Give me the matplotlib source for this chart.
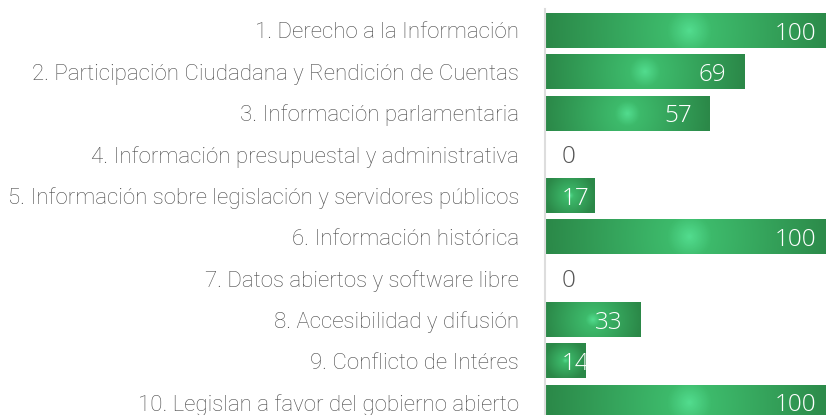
import numpy as np
import matplotlib
matplotlib.use("Agg")
import matplotlib.pyplot as plt
from matplotlib import font_manager
from matplotlib.colors import LinearSegmentedColormap
from matplotlib.patches import Rectangle
from matplotlib.transforms import offset_copy

categories = [
    "1. Derecho a la Información",
    "2. Participación Ciudadana y Rendición de Cuentas",
    "3. Información parlamentaria",
    "4. Información presupuestal y administrativa",
    "5. Información sobre legislación y servidores públicos",
    "6. Información histórica",
    "7. Datos abiertos y software libre",
    "8. Accesibilidad y difusión",
    "9. Conflicto de Intéres",
    "10. Legislan a favor del gobierno abierto",
]
values = [100, 69, 57, 0, 17, 100, 0, 33, 14, 100]

avail = {f.name for f in font_manager.fontManager.ttflist}
label_font = "Roboto" if "Roboto" in avail else "DejaVu Sans"
value_font = "Open Sans" if "Open Sans" in avail else "Roboto"

W, H, DPI = 826, 415, 100
fig = plt.figure(figsize=(W / DPI, H / DPI), dpi=DPI)

ax_left_px = 545
ax_top_px = 9
pitch = 41.3
first_center = 30.5
px_per_unit = 2.89
bar_h_px = 35

ax = fig.add_axes([ax_left_px / W, 0, 1 - ax_left_px / W, (H - ax_top_px) / H])
ax.set_xlim(0, (W - ax_left_px) / px_per_unit)

cmap = LinearSegmentedColormap.from_list(
    "g", [(0.0, "#52dc8e"), (0.15, "#3dba6b"), (1.0, "#2b8848")])

bh = bar_h_px / pitch
for i, v in enumerate(values):
    if v <= 0:
        continue
    wpx = max(int(round(v * px_per_unit)), 2)
    xs = np.arange(wpx) + 0.5 - wpx / 2
    ys = np.arange(bar_h_px) + 0.5 - bar_h_px / 2
    X, Y = np.meshgrid(xs, ys)
    R = max(wpx / 2, bar_h_px / 2)
    t = np.clip(np.sqrt(X ** 2 + Y ** 2) / R, 0, 1)
    img = cmap(t)
    im = ax.imshow(img, extent=(0, v, i + bh / 2, i - bh / 2),
                   aspect="auto", interpolation="bilinear", zorder=2)
    rect = Rectangle((0, i - bh / 2), v, bh, transform=ax.transData)
    im.set_clip_path(rect)

ax.set_yticks(range(len(categories)))
ax.set_yticklabels(categories, fontfamily=label_font, fontweight="light",
                   fontsize=16, color="#4a4a4a")
ax.tick_params(axis="y", length=0, pad=26 * 72 / DPI)
ax.set_xticks([])
for s in ["top", "right", "bottom"]:
    ax.spines[s].set_visible(False)
ax.spines["left"].set_color("#dddddd")
ax.spines["left"].set_linewidth(1.5)
ax.set_ylim((H - first_center) / pitch, (ax_top_px - first_center) / pitch)

fig.canvas.draw()
renderer = fig.canvas.get_renderer()
min_left_px = 17
right_gap_px = 18
ax_x0 = ax.get_window_extent(renderer).x0
for i, v in enumerate(values):
    color = "white" if v > 0 else "#555555"
    txt = ax.text(v, i, str(v), ha="right", va="center_baseline", fontsize=17.5,
                  fontfamily=value_font, fontweight="light", color=color, zorder=3)
    txt.set_transform(offset_copy(ax.transData, fig=fig, x=-right_gap_px, y=0, units="dots"))
    bb = txt.get_window_extent(renderer)
    if bb.x0 < ax_x0 + min_left_px:
        txt.set_position((0, i))
        txt.set_ha("left")
        txt.set_transform(offset_copy(ax.transData, fig=fig, x=min_left_px, y=0, units="dots"))
    if v > 0:
        rect = Rectangle((0, i - bh / 2), v, bh, transform=ax.transData)
        txt.set_clip_path(rect)

fig.savefig("out.png", dpi=DPI)
